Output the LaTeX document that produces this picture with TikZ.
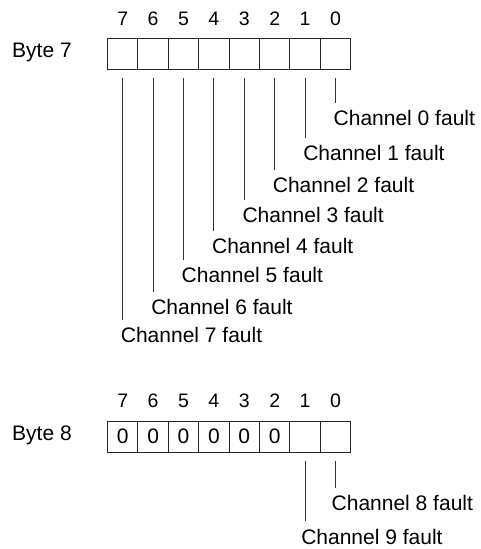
\documentclass[tikz,border=0pt]{standalone}
\usepackage{fontspec}
\setmainfont{Liberation Sans}
\begin{document}
\begin{tikzpicture}[x=1pt,y=-1pt,
  cell/.style={draw=black!85,line width=1pt,minimum width=30.4pt,minimum height=31pt,inner sep=0pt,anchor=north west,font=\fontsize{21}{25}\selectfont},
  bitnum/.style={inner sep=0pt,font=\fontsize{19.5}{23}\selectfont},
  bytelab/.style={inner sep=0pt,anchor=west,font=\fontsize{21}{25}\selectfont},
  chlab/.style={inner sep=0pt,anchor=west,font=\fontsize{21}{25}\selectfont},
  lead/.style={draw=black!80,line width=0.9pt}]
\useasboundingbox (0,0) rectangle (480,549);
% Byte 7
\node[bytelab] (b7) at (12,52) {Byte 7};
\foreach \b in {7,...,0}{
  \pgfmathsetmacro{\xx}{107+30.4*(7-\b)}
  \node[cell] (c7-\b) at (\xx,37.5) {};
  \node[bitnum] (n7-\b) at (c7-\b.center |- 0,18.5) {\b};
}
\foreach \b/\te/\tc in {0/103/118,1/138/153,2/170/185,3/200/215,4/231/246,5/260/275,6/292/307,7/320/335}{
  \coordinate (e7-\b) at (c7-\b.center |- 0,\te);
  \node[chlab] (l7-\b) at ([xshift=-2pt]c7-\b.center |- 0,\tc) {Channel \b\ fault};
  \draw[lead] ([yshift=-8.5pt]c7-\b.south) -- (e7-\b);
}
% Byte 8
\node[bytelab] (b8) at (12,435) {Byte 8};
\foreach \b/\v in {7/0,6/0,5/0,4/0,3/0,2/0,1/{},0/{}}{
  \pgfmathsetmacro{\xx}{107+30.4*(7-\b)}
  \node[cell] (c8-\b) at (\xx,420.5) {\v};
  \node[bitnum] (n8-\b) at (c8-\b.center |- 0,400.5) {\b};
}
\foreach \b/\te/\tc/\ch in {0/488/503/8,1/521/537/9}{
  \coordinate (e8-\b) at (c8-\b.center |- 0,\te);
  \node[chlab] (l8-\b) at ([xshift=-4pt]c8-\b.center |- 0,\tc) {Channel \ch\ fault};
  \draw[lead] ([yshift=-8.5pt]c8-\b.south) -- (e8-\b);
}
\end{tikzpicture}
\end{document}
